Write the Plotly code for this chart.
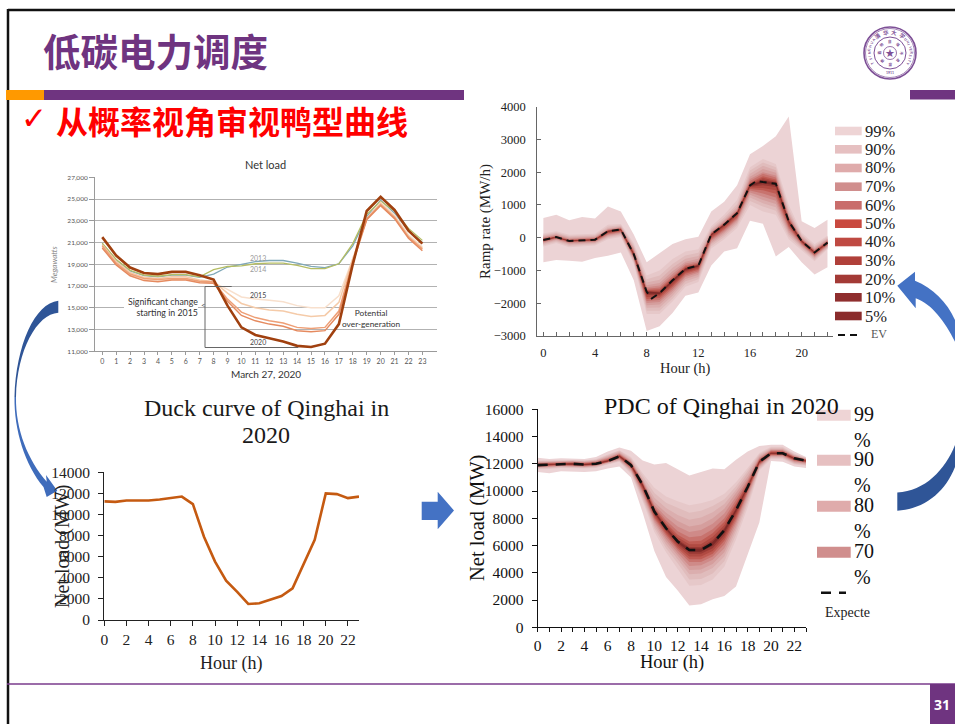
import math
import plotly.graph_objects as go

W, H = 955, 724
SERIF = "Liberation Serif"
SANS = "Lato"
CJK = "Noto Sans CJK SC"
PURPLE = "#6f3480"

# ---------- Net load (CAISO) ----------
caiso_hours = list(range(24))
caiso_2013 = [20900,19400,18400,17950,17850,18000,18000,17800,18100,18750,19000,19250,19350,19350,19100,18800,18700,19050,20700,23400,24900,23700,22100,21000]
caiso_2014 = [20950,19450,18450,18000,17900,18050,18050,17850,18500,18800,18850,19050,19100,19100,18900,18600,18600,19050,20900,23600,24800,23900,22300,21200]
caiso_2015 = [20600,19000,18050,17600,17500,17650,17650,17400,17300,16700,16000,15800,15700,15550,15200,15000,15000,16100,19500,23100,24700,23500,21700,20600]
caiso_2016 = [20800,19250,18250,17800,17700,17850,17850,17550,17400,16350,15400,15000,14800,14700,14400,14200,14300,15500,19500,23200,24600,23400,21600,20500]
caiso_2017 = [20700,19100,18100,17700,17600,17700,17700,17450,17400,15800,14600,14100,13800,13600,13200,13100,13200,14700,19300,23200,24500,23300,21500,20400]
caiso_2018 = [20500,18950,17950,17500,17400,17550,17550,17300,17250,15600,14300,13800,13500,13300,12900,12800,12900,14400,19100,23100,24400,23200,21400,20250]
caiso_2020 = [21500,19800,18700,18200,18100,18300,18300,18000,17600,15200,13200,12500,12200,11900,11500,11400,11700,13500,19000,23900,25200,24000,22100,20900]

# ---------- Duck curve of Qinghai ----------
duck_hours = list(range(24))
duck_load = [11240,11200,11330,11330,11330,11420,11550,11700,10980,7900,5540,3730,2660,1520,1580,1960,2280,3000,5220,7600,12000,11930,11550,11700]

# ---------- Shared band legend ----------
band_labels = ["99%","90%","80%","70%","60%","50%","40%","30%","20%","10%","5%"]
band_colors = ["#eed4d5","#e6c0c1","#dfabab","#d08e8d","#c96d6b","#c9493f","#bf4a42","#b0403a","#a33a36","#8f2e2e","#8a2c2c"]
fill_colors = ["#ecd3d5","#e6c8c9","#e0bcbc","#dbaeae","#d59e9d","#cf8a88","#c8736e","#bf5b53","#b04a42","#9a3a35","#7e2a28"]

# ---------- Ramp rate ----------
ramp_hours = list(range(23))
ramp_ev_hours = [0,1,2,3,4,5,6,7,8,8.4,9,10,11,12,13,14,15,16,16.5,17,18,19,20,21,22]
ramp_ev = [-70,20,-100,-70,-60,200,250,-500,-1650,-1850,-1690,-1300,-950,-850,100,400,750,1600,1730,1700,1650,500,-100,-450,-150]
ramp_up = [
 [600,700,530,630,590,950,800,100,-750,-480,-190,-50,30,800,1100,1600,2550,2800,3100,3700,500,300,550],
 [130,200,90,110,120,400,420,-170,-1150,-1000,-650,-420,-350,350,700,1150,2150,2400,2250,1000,150,-200,60],
 [90,160,50,70,80,340,380,-230,-1270,-1150,-800,-540,-460,290,620,1030,2050,2300,2150,880,90,-250,20],
 [60,130,20,40,50,300,350,-280,-1370,-1280,-920,-640,-560,240,560,950,1950,2200,2060,790,50,-290,-20],
 [30,100,-10,15,20,270,325,-330,-1450,-1380,-1020,-730,-640,200,520,890,1860,2100,1980,720,10,-330,-50],
 [5,75,-35,-5,0,250,305,-370,-1510,-1460,-1110,-790,-710,170,480,850,1790,2000,1900,660,-20,-360,-80],
 [-15,55,-55,-25,-15,235,290,-405,-1560,-1520,-1180,-840,-760,150,455,820,1730,1950,1840,610,-45,-385,-100],
 [-30,40,-70,-40,-30,220,275,-435,-1595,-1570,-1230,-880,-795,130,435,795,1680,1880,1780,570,-65,-405,-115],
 [-45,30,-85,-55,-45,210,265,-460,-1620,-1620,-1260,-910,-820,115,420,775,1650,1830,1730,540,-80,-425,-130],
 [-55,25,-92,-62,-52,205,258,-480,-1635,-1655,-1280,-930,-835,108,410,762,1625,1780,1690,520,-90,-437,-140],
 [-62,22,-96,-66,-56,202,254,-490,-1643,-1672,-1290,-940,-842,104,405,756,1612,1740,1670,510,-95,-443,-145],
]
ramp_lo = [
 [-750,-680,-700,-730,-620,-550,-450,-1300,-2850,-2700,-2300,-1770,-1670,-850,-420,-320,520,430,-570,-280,-750,-1120,-900],
 [-270,-160,-290,-260,-240,-50,20,-800,-2330,-2330,-1950,-1500,-1350,-330,-50,300,1000,800,700,-50,-380,-720,-350],
 [-230,-120,-250,-220,-200,-10,60,-750,-2230,-2230,-1860,-1410,-1270,-260,20,370,1120,950,820,40,-330,-670,-320],
 [-195,-90,-215,-190,-170,25,95,-705,-2140,-2130,-1770,-1330,-1200,-200,80,430,1230,1050,930,110,-290,-630,-295],
 [-165,-65,-185,-160,-145,55,125,-665,-2060,-2040,-1690,-1260,-1130,-150,135,480,1310,1150,1030,170,-255,-595,-270],
 [-140,-45,-160,-135,-120,85,150,-630,-1990,-1960,-1620,-1200,-1070,-100,185,530,1380,1250,1130,230,-220,-565,-245],
 [-120,-25,-140,-115,-105,110,175,-600,-1930,-1900,-1560,-1150,-1020,-60,230,575,1440,1350,1230,290,-190,-540,-220],
 [-105,-10,-125,-100,-90,135,195,-575,-1870,-1840,-1500,-1100,-975,-25,270,620,1490,1450,1340,340,-165,-515,-200],
 [-92,0,-115,-90,-80,155,215,-550,-1810,-1790,-1450,-1060,-940,15,310,660,1530,1520,1450,390,-145,-490,-185],
 [-82,8,-108,-80,-70,175,232,-525,-1750,-1750,-1400,-1020,-900,55,350,700,1560,1600,1550,440,-125,-470,-170],
 [-76,14,-104,-75,-65,188,241,-512,-1700,-1720,-1350,-985,-875,78,375,725,1580,1660,1600,470,-112,-460,-160],
]

# ---------- PDC of Qinghai ----------
pdc_hours = list(range(24))
pdc_ev = [11900,11950,12000,12000,11950,12000,12200,12550,11900,10450,8500,7270,6300,5670,5670,6160,7130,8600,10300,12150,12770,12770,12400,12230]
pdc_up = [
 [12450,12350,12400,12350,12350,12500,12900,13200,12950,12250,11950,12050,11600,11150,11400,11650,11600,12300,12900,13300,13400,13400,12900,12500],
 [12250,12250,12300,12280,12250,12350,12700,13000,12500,11300,10250,9600,9250,8950,9100,9350,9800,10650,11700,12800,13250,13250,12750,12450],
 [12200,12220,12250,12250,12220,12300,12620,12950,12400,11100,9850,9150,8750,8400,8550,8900,9400,10350,11500,12700,13180,13180,12700,12420],
 [12150,12180,12220,12220,12180,12260,12550,12880,12300,10950,9500,8750,8250,7900,8050,8450,9050,10100,11300,12600,13100,13100,12650,12390],
 [12100,12140,12180,12180,12140,12220,12480,12810,12220,10820,9200,8400,7800,7400,7550,8000,8700,9850,11050,12500,13050,13050,12600,12360],
 [12070,12100,12150,12150,12100,12180,12420,12750,12150,10720,9000,8100,7400,7000,7150,7600,8350,9600,10850,12420,13000,13000,12550,12330],
 [12040,12070,12110,12110,12070,12140,12370,12700,12090,10650,8850,7850,7050,6600,6700,7200,8000,9350,10700,12350,12950,12950,12520,12310],
 [12010,12040,12080,12080,12040,12100,12320,12660,12040,10590,8750,7650,6800,6300,6350,6900,7750,9100,10580,12290,12900,12900,12490,12290],
 [11980,12010,12050,12050,12010,12070,12280,12620,12000,10540,8650,7500,6600,6100,6100,6650,7500,8950,10480,12240,12860,12860,12460,12270],
 [11950,11980,12030,12030,11980,12040,12240,12590,11960,10500,8580,7380,6450,5900,5900,6400,7300,8750,10390,12200,12820,12820,12430,12250],
 [11930,11965,12015,12015,11965,12020,12220,12570,11930,10470,8540,7320,6370,5780,5780,6280,7210,8670,10340,12170,12790,12790,12410,12240],
]
pdc_lo = [
 [11400,11300,11450,11450,11400,11450,11650,11800,11000,8400,5600,3700,2700,1600,1700,2050,2300,3000,5300,7700,12200,12150,11800,11700],
 [11600,11620,11700,11700,11650,11700,11950,12150,11250,9250,7000,5500,4300,3050,3100,3500,4450,6450,8800,11500,12350,12350,11950,11850],
 [11650,11680,11750,11750,11700,11750,12000,12200,11350,9400,7250,5800,4700,3500,3550,3950,4850,6800,9100,11600,12420,12420,12000,11900],
 [11700,11730,11790,11790,11740,11800,12040,12250,11450,9550,7450,6050,5000,3900,3950,4350,5200,7100,9350,11700,12480,12480,12060,11950],
 [11740,11770,11830,11830,11780,11840,12070,12300,11530,9700,7650,6300,5250,4200,4250,4650,5500,7350,9550,11780,12540,12540,12120,12000],
 [11770,11810,11860,11860,11810,11870,12100,12350,11600,9850,7800,6500,5450,4500,4550,4950,5800,7600,9750,11860,12590,12590,12170,12050],
 [11800,11840,11890,11890,11840,11900,12120,12400,11670,9980,7950,6700,5650,4800,4800,5200,6100,7800,9900,11930,12630,12630,12220,12090],
 [11820,11870,11920,11920,11870,11930,12140,12440,11740,10100,8080,6850,5800,5000,5000,5400,6350,8000,10020,11990,12670,12670,12260,12130],
 [11850,11890,11940,11940,11890,11950,12160,12480,11790,10200,8200,6980,5950,5200,5200,5600,6550,8180,10120,12040,12700,12700,12300,12160],
 [11870,11910,11960,11960,11910,11970,12170,12510,11840,10300,8320,7100,6100,5400,5400,5800,6750,8350,10200,12080,12730,12730,12340,12190],
 [11885,11925,11975,11975,11925,11985,12185,12530,11870,10380,8410,7190,6200,5550,5550,5990,6940,8490,10250,12110,12750,12750,12370,12210],
]

# ---------- helpers: pixel position on the slide -> paper fraction ----------
def px(x): return x / W
def py(y): return 1 - y / H

shapes, annos = [], []

def rect(x0, y0, x1, y1, color, layer="above"):
    shapes.append(dict(type="rect", xref="paper", yref="paper", x0=px(x0), x1=px(x1), y0=py(y1), y1=py(y0),
                       fillcolor=color, line=dict(width=0), layer=layer))

def seg(x0, y0, x1, y1, color, width=1, dash=None):
    line = dict(color=color, width=width)
    if dash: line["dash"] = dash
    shapes.append(dict(type="line", xref="paper", yref="paper", x0=px(x0), x1=px(x1), y0=py(y0), y1=py(y1), line=line, layer="above"))

def poly(path_px, color):
    parts = []
    for cmd, *pts in path_px:
        parts.append(cmd + " " + " ".join(f"{px(x):.5f} {py(y):.5f}" for x, y in pts))
    shapes.append(dict(type="path", xref="paper", yref="paper", path=" ".join(parts) + " Z",
                       fillcolor=color, line=dict(width=0), layer="above"))

def circle(cx, cy, r, color, width=1, fill=None):
    shapes.append(dict(type="circle", xref="paper", yref="paper", x0=px(cx-r), x1=px(cx+r), y0=py(cy+r), y1=py(cy-r),
                       line=dict(color=color, width=width), fillcolor=fill or "rgba(0,0,0,0)", layer="above"))

def text(x, y, s, size, color="#1a1a1a", family=SERIF, xanchor="center", yanchor="middle", angle=0, bold=False, align=None):
    a = dict(xref="paper", yref="paper", x=px(x), y=py(y), text=f"<b>{s}</b>" if bold else s, showarrow=False,
             font=dict(size=size, color=color, family=family), xanchor=xanchor, yanchor=yanchor, textangle=angle,
             borderpad=0, borderwidth=0)
    if align: a["align"] = align
    annos.append(a)

fig = go.Figure()

# ---------- traces ----------
caiso_series = [(caiso_2013, "#7fa8b8", 1.3), (caiso_2014, "#b5bd62", 1.3), (caiso_2015, "#f8e0cd", 1.5),
                (caiso_2016, "#f5cba9", 1.5), (caiso_2017, "#ee9f76", 1.5), (caiso_2018, "#e58a5f", 1.5), (caiso_2020, "#a0400f", 2.6)]
for vals, color, w in caiso_series:
    fig.add_trace(go.Scatter(x=caiso_hours, y=vals, mode="lines", line=dict(color=color, width=w), xaxis="x", yaxis="y", hoverinfo="skip"))

fig.add_trace(go.Scatter(x=duck_hours, y=duck_load, mode="lines", line=dict(color="#c55a11", width=2.6), xaxis="x2", yaxis="y2", hoverinfo="skip"))

def bands(hours, ups, los, color_list, xa, ya):
    for up, lo, c in zip(ups, los, color_list):
        fig.add_trace(go.Scatter(x=list(hours) + list(hours)[::-1], y=list(up) + list(lo)[::-1], mode="lines", fill="toself",
                                 fillcolor=c, line=dict(width=0), xaxis=xa, yaxis=ya, hoverinfo="skip"))

bands(ramp_hours, ramp_up, ramp_lo, fill_colors, "x3", "y3")
fig.add_trace(go.Scatter(x=ramp_ev_hours, y=ramp_ev, mode="lines", line=dict(color="#111", width=2, dash="7px,5px"), xaxis="x3", yaxis="y3", hoverinfo="skip"))
bands(pdc_hours, pdc_up, pdc_lo, fill_colors, "x4", "y4")
fig.add_trace(go.Scatter(x=pdc_hours, y=pdc_ev, mode="lines", line=dict(color="#111", width=2.6, dash="10px,8px"), xaxis="x4", yaxis="y4", hoverinfo="skip"))

# ---------- axes ----------
def dom(x0, x1, y0, y1):
    return [px(x0), px(x1)], [py(y1), py(y0)]

dxA, dyA = dom(95, 437, 177.3, 351.3)
dxD, dyD = dom(104.3, 359, 472.3, 620)
dxB, dyB = dom(537.3, 833.3, 106.7, 336)
dxC, dyC = dom(537.7, 806, 409.3, 627.3)

GREY = "#9a9a9a"
layout = dict(
    width=W, height=H, margin=dict(l=0, r=0, t=0, b=0, pad=0, autoexpand=False), paper_bgcolor="white", plot_bgcolor="rgba(0,0,0,0)",
    showlegend=False,
    xaxis=dict(domain=dxA, anchor="y", range=[-0.52, 24.05], tickmode="array", tickvals=caiso_hours, ticks="outside", ticklen=3, tickcolor=GREY,
               showgrid=False, zeroline=False, showline=True, linecolor=GREY, linewidth=1, automargin=False,
               tickfont=dict(size=7, color="#555", family=SANS)),
    yaxis=dict(domain=dyA, anchor="x", range=[11000, 27000], tick0=11000, dtick=2000, tickformat=",d", ticks="outside", ticklen=5, tickcolor=GREY,
               showgrid=True, gridcolor="#b2b2b2", gridwidth=1, zeroline=False, showline=True, linecolor=GREY, linewidth=1, automargin=False,
               tickfont=dict(size=6.5, color="#555", family=SANS)),
    xaxis2=dict(domain=dxD, anchor="y2", range=[0, 23], tick0=0, dtick=2, ticks="outside", ticklen=5, tickcolor="#222", tickwidth=1,
                showgrid=False, zeroline=False, showline=True, linecolor="#222", linewidth=1.2, automargin=False,
                tickfont=dict(size=15.5, color="#222", family=SERIF)),
    yaxis2=dict(domain=dyD, anchor="x2", range=[0, 14000], tick0=0, dtick=2000, tickformat="d", ticks="outside", ticklen=5, tickcolor="#222",
                showgrid=False, zeroline=False, showline=True, linecolor="#222", linewidth=1.2, automargin=False, ticklabelstandoff=5,
                tickfont=dict(size=15.5, color="#222", family=SERIF)),
    xaxis3=dict(domain=dxB, anchor="y3", range=[-0.47, 22.45], tickmode="array", tickvals=[0, 4, 8, 12, 16, 20], ticks="inside", ticklen=4, tickcolor="#666",
                minor=dict(dtick=1, tick0=0, ticks="inside", ticklen=4, tickcolor="#666"),
                showgrid=False, zeroline=False, showline=True, linecolor="#666", linewidth=1, ticklabelstandoff=5, automargin=False,
                tickfont=dict(size=12.5, color="#222", family=SERIF)),
    yaxis3=dict(domain=dyB, anchor="x3", range=[-3000, 4000], tick0=-3000, dtick=1000, tickformat="d", ticks="inside", ticklen=4, tickcolor="#666",
                showgrid=False, zeroline=False, showline=True, linecolor="#666", linewidth=1, ticklabelstandoff=8, automargin=False,
                tickfont=dict(size=12.5, color="#222", family=SERIF)),
    xaxis4=dict(domain=dxC, anchor="y4", range=[0, 23], tick0=0, dtick=2, ticks="outside", ticklen=4, tickcolor="#111",
                minor=dict(dtick=1, tick0=0, ticks="outside", ticklen=4, tickcolor="#111"),
                showgrid=False, zeroline=False, showline=True, linecolor="#111", linewidth=1.2, automargin=False,
                tickfont=dict(size=15.5, color="#111", family=SERIF)),
    yaxis4=dict(domain=dyC, anchor="x4", range=[0, 16000], tick0=0, dtick=2000, tickformat="d", ticks="outside", ticklen=5, tickcolor="#111",
                showgrid=False, zeroline=False, showline=True, linecolor="#111", linewidth=1.2, automargin=False, ticklabelstandoff=5,
                tickfont=dict(size=15.5, color="#111", family=SERIF)),
)

# ---------- slide chrome ----------
seg(8, 10, 955, 10, "#111", 2.5)
seg(8, 9, 8, 724, "#111", 2.5)
rect(6, 90, 44, 100, "#ff9900")
rect(44, 90, 464, 100, PURPLE)
rect(910, 90, 955, 99.5, PURPLE)
seg(7, 684, 955, 684, "#7a3b8c", 1.6)
rect(930, 684, 955, 724, PURPLE)
text(942, 704, "31", 14, "white", "Open Sans", bold=True)
text(43, 50, "低碳电力调度", 37.5, PURPLE, CJK, xanchor="left", bold=True)
text(56, 120, "从概率视角审视鸭型曲线", 32, "#ff0000", CJK, xanchor="left", bold=True)
text(33.5, 118, "✓", 31, "#ff0000", "DejaVu Sans")

# ---------- logo ----------
LC = "#7d4f96"
LX, LY = 890, 53
circle(LX, LY, 26, LC, 1.6)
circle(LX, LY, 24.5, LC, 0.7)
circle(LX, LY, 16, LC, 1)
circle(LX, LY, 6.5, LC, 0.8)
text(LX, LY, "★", 11, LC, "DejaVu Sans")
def ring(chars, start_deg, step_deg, r, size, family):
    for i, ch in enumerate(chars):
        deg = start_deg + i * step_deg
        a = math.radians(deg)
        text(LX + r * math.sin(a), LY - r * math.cos(a), ch, size, LC, family, angle=deg, bold=True)
ring("清华大学", -36, 24, 20.5, 5.5, CJK)
ring("TSINGHUA", -118, 9.5, 20.5, 3.5, SANS)
ring("UNIVERSITY", 50, 8, 20.5, 3.5, SANS)
text(LX, LY + 20.5, "1911", 3.5, LC, SANS, bold=True)
ring("自强不息厚德载物", 0, 45, 11.5, 3.5, CJK)

# ---------- arrows ----------
poly([("M", (58.3, 300.7)), ("C", (35, 303), (16, 345), (14.5, 397)), ("L", (16, 397)), ("C", (17, 350), (37, 314), (58.3, 312.7))], "#2f5597")
poly([("M", (14.5, 397)), ("C", (14, 430), (25, 465), (43.5, 487)), ("L", (46.7, 497)), ("L", (57.3, 490.7)), ("L", (46, 475)), ("L", (46.7, 481.7)),
      ("C", (28, 460), (15.5, 430), (16, 397))], "#3f6cbb")
poly([("M", (897.3, 285.7)), ("L", (915, 271.7)), ("L", (915, 280.7)), ("C", (933, 288), (947, 302), (955, 320)), ("L", (955, 341.7)),
      ("C", (945, 322), (932, 304), (915.7, 298.3)), ("L", (915.7, 308.3))], "#4472c4")
poly([("M", (955, 445)), ("C", (945, 470), (925, 491), (897.3, 492.5)), ("L", (897.3, 510.7)), ("C", (925, 509), (945, 492), (955, 467))], "#2f5597")
poly([("M", (421.7, 501.7)), ("L", (437.7, 501.7)), ("L", (437.7, 491.7)), ("L", (454, 510.5)), ("L", (437.7, 529.3)), ("L", (437.7, 520)), ("L", (421.7, 520))], "#4472c4")

# ---------- Net load texts ----------
text(265.7, 164.3, "Net load", 11, "#333", SANS)
text(265.7, 374.3, "March 27, 2020", 10, "#333", SANS)
text(54, 265, "<i>Megawatts</i>", 8, "#888", SANS, angle=-90)
text(258.3, 257.7, "2013", 7, "#999", SANS)
text(258.3, 269.3, "2014", 7, "#999", SANS)
text(258.3, 294.7, "2015", 7, "#444", SANS)
text(258.3, 342.3, "2020", 7, "#444", SANS)
rect(124, 297, 198, 317, "white")
text(197.7, 307.2, "Significant change<br>starting in 2015", 8.8, "#333", SANS, xanchor="right", align="right")
text(203, 304.5, "&lt;", 8, "#555", SANS)
text(371, 318.5, "Potential<br>over-generation", 8.3, "#333", SANS)
seg(205, 286.5, 231.7, 286.5, "#666", 1)
seg(205, 286.5, 205, 347.5, "#666", 1)
seg(205, 347.5, 298.3, 347.5, "#666", 1)

# ---------- Duck texts ----------
text(266, 408, "Duck curve of Qinghai in", 24)
text(266, 435, "2020", 24)
text(231, 663, "Hour (h)", 18, "#222")
text(62, 547, "Net load (MW)", 20, "#222", angle=-90)

# ---------- Ramp texts and legend ----------
text(685, 368, "Hour (h)", 14.5, "#222")
text(486, 222, "Ramp rate (MW/h)", 15, "#222", angle=-90)
ramp_leg_y = [131, 149.3, 168, 186.7, 205.3, 223.7, 242, 260.7, 279, 297.3, 316]
for yy, lab, c in zip(ramp_leg_y, band_labels, band_colors):
    rect(835, yy - 4.3, 861.7, yy + 4.3, c)
    text(865, yy, lab, 16.5, "#222", xanchor="left")
seg(838, 335, 862, 335, "#111", 2, "7px,5px")
text(871, 334, "EV", 12, "#555", xanchor="left")

# ---------- PDC texts and legend ----------
text(721, 406, "PDC of Qinghai in 2020", 24, "#111")
text(672, 662, "Hour (h)", 18.5, "#111")
text(477, 518, "Net load (MW)", 20.5, "#111", angle=-90)
pdc_leg = [(415.3, "99", 0), (460.3, "90", 1), (506.3, "80", 2), (552.3, "70", 3)]
for yy, lab, i in pdc_leg:
    rect(817, yy - 5.5, 850.7, yy + 5.5, band_colors[i])
    text(854, yy + 12, lab + "<br>%", 20, "#111", xanchor="left", align="left")
seg(821, 592.7, 846, 592.7, "#111", 2.6, "10px,8px")
text(825, 612, "Expecte", 14, "#222", xanchor="left")

layout["shapes"] = shapes
layout["annotations"] = annos
fig.update_layout(**layout)

fig.write_html("out.html", config={"displayModeBar": False},
               post_script="document.body.style.margin='0';document.body.style.overflow='hidden';")
